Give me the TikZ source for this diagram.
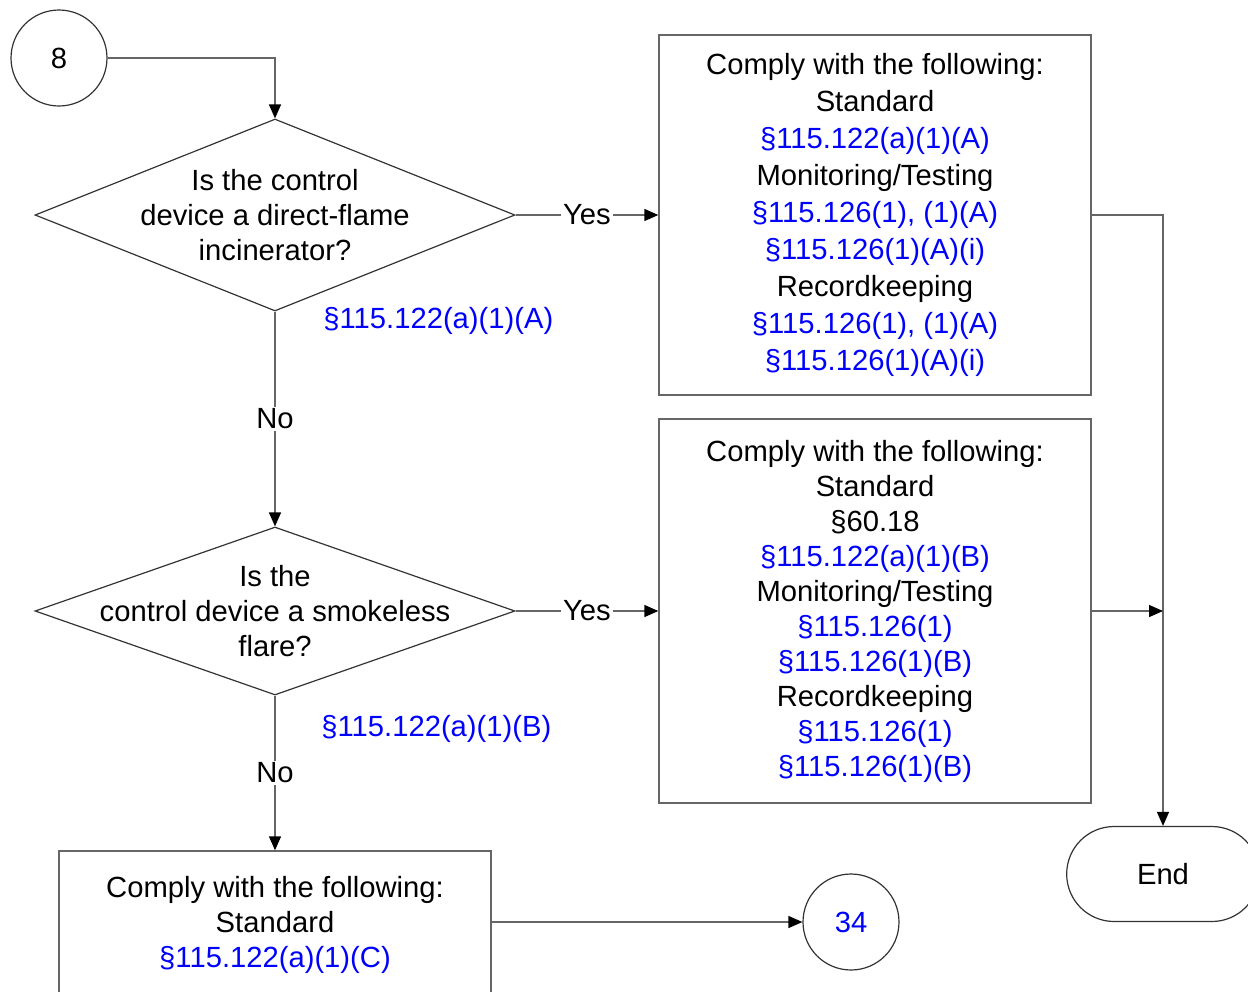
\documentclass[tikz,border=0pt]{standalone}
\usepackage{fontspec}
\setmainfont{Liberation Sans}
\usepackage{xcolor}
\usetikzlibrary{shapes.geometric,shapes.misc,arrows.meta}
\definecolor{refblue}{RGB}{0,0,255}
\newcommand{\sref}[1]{\textcolor{refblue}{§#1}}
\tikzset{
    box/.style={draw=black!60, line width=0.7pt, minimum width=216pt, align=center, inner sep=0pt},
    decision/.style={diamond, draw=black!80, line width=0.6pt, minimum width=240pt, inner sep=0pt},
    conn/.style={circle, draw=black!80, line width=0.6pt, minimum size=48pt, inner sep=0pt},
    arr/.style={draw=black!60, line width=0.7pt, -{Triangle[length=7pt,width=6pt,color=black]}},
    tag/.style={fill=white, inner sep=1pt},
    ref/.style={text=refblue, inner sep=0pt}
}

\begin{document}
\begin{tikzpicture}[x=0.5pt, y=-0.5pt, font=\fontsize{14.6}{17.5}\selectfont]
\useasboundingbox (0,0) rectangle (1248,991);

\node[conn] (s8) at (59,58) {8};
\node[decision, minimum height=96pt, label={[align=center]center:Is the control\\device a direct-flame\\incinerator?}] (q1) at (275,215) {};
\node[ref, anchor=west] (r1) at (323,321) {§115.122(a)(1)(A)};
\node[decision, minimum height=84pt, label={[align=center]center:Is the\\control device a smokeless\\flare?}] (q2) at (275,611) {};
\node[ref, anchor=west] (r2) at (321,729) {§115.122(a)(1)(B)};

\node[box, minimum height=180pt, font=\fontsize{14.6}{18.5}\selectfont] (c1) at (875,215) {Comply with the following:\\Standard\\\sref{115.122(a)(1)(A)}\\Monitoring/Testing\\\sref{115.126(1), (1)(A)}\\\sref{115.126(1)(A)(i)}\\Recordkeeping\\\sref{115.126(1), (1)(A)}\\\sref{115.126(1)(A)(i)}};
\node[box, minimum height=192pt] (c2) at (875,611) {Comply with the following:\\Standard\\§60.18\\\sref{115.122(a)(1)(B)}\\Monitoring/Testing\\\sref{115.126(1)}\\\sref{115.126(1)(B)}\\Recordkeeping\\\sref{115.126(1)}\\\sref{115.126(1)(B)}};
\node[box, minimum height=74pt] (c3) at (275,925) {Comply with the following:\\Standard\\\sref{115.122(a)(1)(C)}};

\node[conn, text=refblue] (s34) at (851,922) {34};
\node[rounded rectangle, draw=black!80, line width=0.6pt, minimum width=103pt, minimum height=47.5pt] (end) at (1163,874) {End};

\draw[arr] (s8.east) -| (q1.north);
\draw[arr] (q1.east) -- node[tag] {Yes} (c1.west);
\draw[arr] (q1.south) -- node[tag] {No} (q2.north);
\draw[arr] (q2.east) -- node[tag] {Yes} (c2.west);
\draw[arr] (q2.south) -- node[tag] {No} (c3.north);
\draw[arr] (c1.east) -| (end.north);
\draw[arr] (c2.east) -- (c2.east -| end.north);
\draw[arr] (c3.east |- s34.west) -- (s34.west);
\end{tikzpicture}
\end{document}
